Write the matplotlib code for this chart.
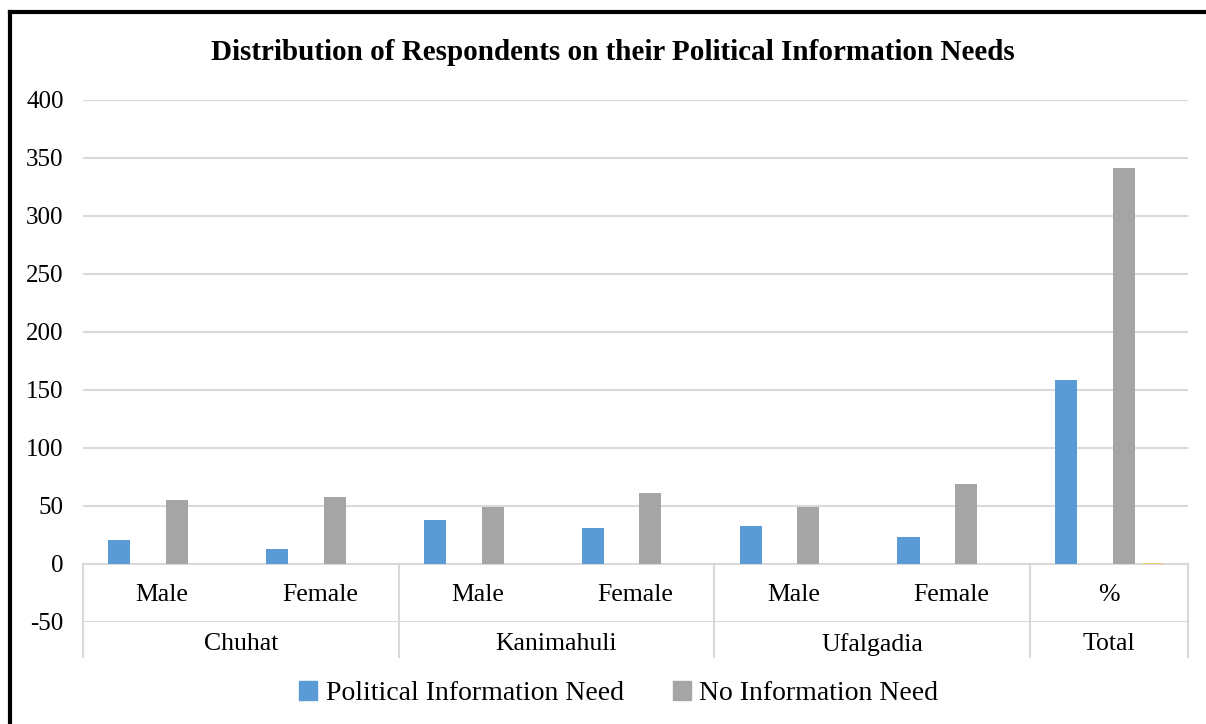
import matplotlib.pyplot as plt
from matplotlib.patches import Patch
from matplotlib.lines import Line2D

plt.rcParams['font.family'] = ['Liberation Serif', 'DejaVu Serif']

# data
groups = ["Chuhat", "Kanimahuli", "Ufalgadia", "Total"]
group_sizes = [2, 2, 2, 1]
sub_labels = ["Male", "Female", "Male", "Female", "Male", "Female", "%"]
political_need = [21, 13, 38, 31, 33, 23, 159]
no_need = [55, 58, 49, 61, 49, 69, 341]
third_series = [0, 0, 0, 0, 0, 0, 0.6]
y_ticks = [-50, 0, 50, 100, 150, 200, 250, 300, 350, 400]

blue = "#5B9BD5"
gray = "#A5A5A5"
gold = "#FFC000"
grid_col = "#D9D9D9"

fig = plt.figure(figsize=(12.06, 7.24), dpi=100)
ax = fig.add_axes([0.0688, 0.1409, 0.9162, 0.7210])

x = list(range(len(sub_labels)))
bw = 0.14
ax.bar([i - 0.27 for i in x], political_need, width=bw, color=blue, zorder=3)
ax.bar([i + 0.095 for i in x], no_need, width=bw, color=gray, zorder=3)
ax.bar([i + 0.275 for i in x], third_series, width=0.13, color=gold, alpha=0.5, zorder=3)

ax.set_xlim(-0.5, len(x) - 0.5)
ax.set_ylim(-50, 400)
ax.set_yticks(y_ticks)
ax.set_yticklabels([str(v) for v in y_ticks], fontsize=18)
ax.tick_params(axis='y', length=0, pad=14)
ax.set_xticks([])
for s in ax.spines.values():
    s.set_visible(False)
for v in y_ticks:
    ax.axhline(v, color=grid_col, lw=1.5, zorder=1)

# category table under the zero line
trans = ax.get_xaxis_transform()
for i, lab in enumerate(sub_labels):
    ax.text(i, -27, lab, ha='center', va='center', fontsize=18.5)
edges = [-0.5]
for n in group_sizes:
    edges.append(edges[-1] + n)
for e in edges:
    ax.add_line(Line2D([e, e], [0.1111, -0.067], transform=trans,
                       color=grid_col, lw=1.5, clip_on=False, zorder=1))
for g, lo, hi in zip(groups, edges[:-1], edges[1:]):
    ax.text((lo + hi) / 2, -0.043, g, transform=trans, ha='center',
            va='center', fontsize=18.5)

fig.text(0.5085, 0.927, "Distribution of Respondents on their Political Information Needs",
         ha='center', va='center', fontsize=21, fontweight='bold')

handles = [Patch(color=blue, label="Political Information Need"),
           Patch(color=gray, label="No Information Need")]
fig.legend(handles=handles, loc='center', bbox_to_anchor=(0.513, 0.042), ncol=2,
           frameon=False, fontsize=20, handlelength=0.65, handleheight=0.65,
           handletextpad=0.3, columnspacing=1.77)

# outer frame (left and top edges)
fig.add_artist(Line2D([0.0083, 0.0083], [0, 0.983], transform=fig.transFigure,
                      color='black', lw=3))
fig.add_artist(Line2D([0.0083, 1], [0.983, 0.983], transform=fig.transFigure,
                      color='black', lw=3))

fig.savefig("out.png", dpi=100, facecolor='white')
